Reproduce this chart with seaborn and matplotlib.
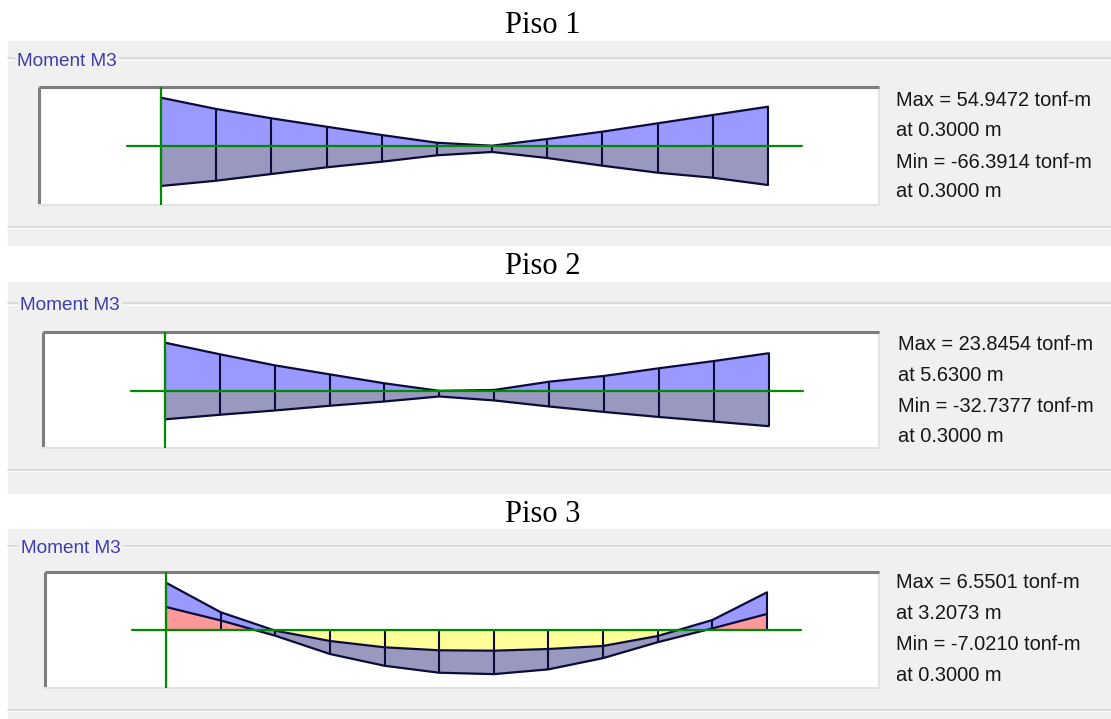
import matplotlib.pyplot as plt
import numpy as np
import seaborn as sns
from matplotlib.lines import Line2D
from matplotlib.patches import Rectangle

W, H = 1111, 719

# stations along the beam (m) and clear span ends
stations = [0.3000, 0.7845, 1.2691, 1.7536, 2.2382, 2.7227, 3.2073, 3.6918, 4.1764, 4.6609, 5.1455, 5.6300]
beam_ends = [0.0, 5.93]

floors = ["Piso 1", "Piso 2", "Piso 3"]

# envelope moments M3 (tonf-m), positive drawn downward
piso1_min = [-66.39, -50.9, -38.1, -26.5, -15.1, -4.5, -0.4, -9.6, -19.7, -31.2, -42.6, -54.0]
piso1_max = [54.95, 47.7, 38.5, 29.3, 21.6, 12.8, 8.2, 16.5, 27.1, 36.7, 43.6, 53.6]
piso2_min = [-32.74, -24.9, -17.4, -11.3, -5.2, -0.1, -0.7, -6.3, -10.2, -15.4, -20.3, -25.6]
piso2_max = [19.2, 16.1, 13.2, 10.0, 7.1, 3.7, 6.4, 10.5, 14.2, 17.6, 20.7, 23.85]
piso3_min = [-7.02, -2.64, 0.10, 1.63, 2.57, 3.01, 3.07, 2.82, 2.37, 0.89, -1.48, -5.59]
piso3_max = [-3.42, -1.42, 0.85, 3.56, 5.31, 6.34, 6.55, 5.84, 4.17, 1.81, -0.24, -2.38]

max_values = [54.9472, 23.8454, 6.5501]
max_locs = [0.3000, 5.6300, 3.2073]
min_values = [-66.3914, -32.7377, -7.0210]
min_locs = [0.3000, 0.3000, 0.3000]

# panel layout in pixels
layouts = [
    dict(grey=(8, 41, 245), glines=(58.3, 226.7), label=(17, 61), title_y=33.3,
         box=(38.5, 87.3, 878.6, 204.5), green_x=161, end_x=768, axis_y=146, left_px=48.3,
         text_x=896, text_y=[100, 130, 162, 191.5]),
    dict(grey=(8, 282, 493), glines=(303.3, 470), label=(20, 306), title_y=274.5,
         box=(43, 331.7, 879, 448.3), green_x=165, end_x=768.6, axis_y=391, left_px=48.3,
         text_x=898, text_y=[345, 375.5, 406.5, 436.5]),
    dict(grey=(8, 529, 719), glines=(545.5, 710), label=(21, 548.5), title_y=521.5,
         box=(44.6, 571.7, 879, 687.7), green_x=166, end_x=767, axis_y=630, left_px=47.3,
         text_x=896, text_y=[583, 613.5, 645, 675.5]),
]

BLUE = "#9999ff"
SLATE = "#9999bf"
RED = "#ff9999"
YELLOW = "#ffff99"
OUTLINE = "#0c0c3a"
GREEN = "#008a00"


def fx(x):
    return x / W


def fy(y):
    return 1 - y / H


sns.set_style("white")
plt.rcParams["font.family"] = ["Liberation Sans", "DejaVu Sans"]

fig = plt.figure(figsize=(W / 100, H / 100), dpi=100)
fig.patch.set_facecolor("white")

series = [(piso1_min, piso1_max), (piso2_min, piso2_max), (piso3_min, piso3_max)]

for i, lay in enumerate(layouts):
    gx, gy0, gy1 = lay["grey"]
    fig.add_artist(Rectangle((fx(gx), fy(gy1)), 1 - fx(gx), (gy1 - gy0) / H,
                             transform=fig.transFigure, color="#f0f0f0", zorder=0))
    fig.text(fx(543), fy(lay["title_y"]), floors[i], ha="center", va="baseline",
             fontsize=22, family=["Liberation Serif", "DejaVu Serif"], color="black")

    # etched group box lines
    top, bot = lay["glines"]
    for y0 in (top, bot):
        fig.add_artist(Line2D([fx(gx), 1], [fy(y0), fy(y0)], color="#d6d6d6", lw=1.2,
                              transform=fig.transFigure, zorder=1))
        fig.add_artist(Line2D([fx(gx), 1], [fy(y0 + 1.2), fy(y0 + 1.2)], color="white", lw=0.8,
                              transform=fig.transFigure, zorder=1))
    lx, ly = lay["label"]
    fig.text(fx(lx), fy(ly), "Moment M3", ha="left", va="center", fontsize=13.7,
             color="#3c3cb0", zorder=3,
             bbox=dict(facecolor="#f0f0f0", edgecolor="none", pad=1.5))

    # diagram axes over the white box
    bl, bt, br, bb = lay["box"]
    ax = fig.add_axes([fx(bl), fy(bb), (br - bl) / W, (bb - bt) / H])
    ax.set_facecolor("white")

    mn = np.array(series[i][0])
    mx = np.array(series[i][1])
    x = np.array(stations)

    ppm = (lay["end_x"] - lay["green_x"]) / (stations[-1] - stations[0])
    ax.set_xlim(stations[0] - (lay["green_x"] - bl) / ppm, stations[0] + (br - lay["green_x"]) / ppm)
    scale = -mn[0] / lay["left_px"]  # tonf-m per pixel
    ax.set_ylim((bb - lay["axis_y"]) * scale, -(lay["axis_y"] - bt) * scale)

    ax.fill_between(x, mn, 0, where=mn <= 0, interpolate=True, color=BLUE, lw=0, zorder=1)
    ax.fill_between(x, mx, 0, where=mx <= 0, interpolate=True, color=RED, lw=0, zorder=2)
    ax.fill_between(x, 0, mx, where=mx >= 0, interpolate=True, color=SLATE, lw=0, zorder=1)
    ax.fill_between(x, 0, mn, where=mn >= 0, interpolate=True, color=YELLOW, lw=0, zorder=2)

    ax.vlines(x, np.minimum(mn, 0), np.maximum(mx, 0), color=OUTLINE, lw=1.5, zorder=3)
    sns.lineplot(x=x, y=mn, ax=ax, color=OUTLINE, lw=1.6, estimator=None, sort=False, zorder=4)
    sns.lineplot(x=x, y=mx, ax=ax, color=OUTLINE, lw=1.6, estimator=None, sort=False, zorder=4)

    ax.plot(beam_ends, [0, 0], color=GREEN, lw=1.6, zorder=5)
    ax.axvline(stations[0], color=GREEN, lw=1.6, zorder=5)

    ax.set_xticks([])
    ax.set_yticks([])
    ax.set_xlabel("")
    ax.set_ylabel("")
    for side in ("top", "left"):
        ax.spines[side].set_color("#7d7d7d")
        ax.spines[side].set_linewidth(2.2)
        ax.spines[side].set_capstyle("butt")
    for side in ("bottom", "right"):
        ax.spines[side].set_color("#e2e2e2")
        ax.spines[side].set_linewidth(1.5)

    lines = [
        f"Max = {max_values[i]:.4f} tonf-m",
        f"at {max_locs[i]:.4f} m",
        f"Min = {min_values[i]:.4f} tonf-m",
        f"at {min_locs[i]:.4f} m",
    ]
    for s, ty in zip(lines, lay["text_y"]):
        fig.text(fx(lay["text_x"]), fy(ty), s, ha="left", va="center", fontsize=14.4, color="#161616")

fig.savefig("out.png", dpi=100, facecolor=fig.get_facecolor())
